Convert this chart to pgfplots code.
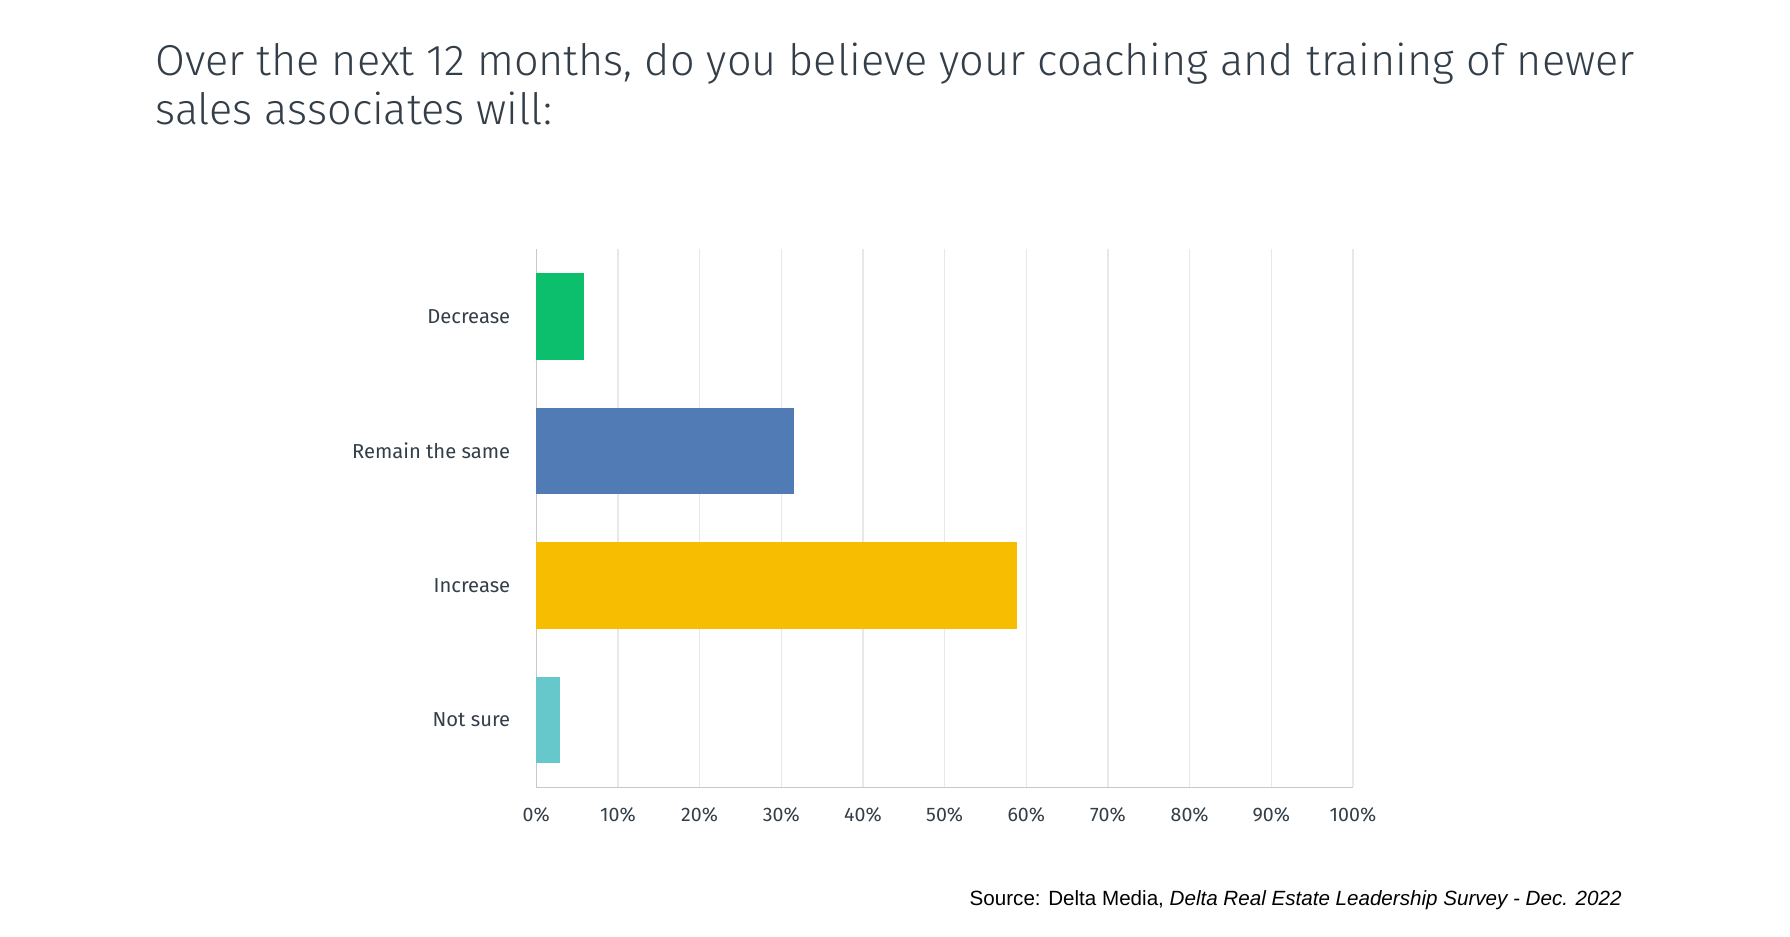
\documentclass[border=0pt]{standalone}
\usepackage{fontspec}
\setmainfont{Fira Sans Light}
\newfontfamily\regfont{Fira Sans}
\newfontfamily\srcfont{Liberation Sans}
\usepackage{pgfplots}
\pgfplotsset{compat=1.18}
\definecolor{txt}{HTML}{333E48}
\definecolor{cDec}{HTML}{0BBF6C}
\definecolor{cRem}{HTML}{517BB5}
\definecolor{cInc}{HTML}{F7BD00}
\definecolor{cNot}{HTML}{66C8CA}
\definecolor{gridc}{HTML}{E8E8E8}
\definecolor{axc}{HTML}{C8C8C8}
\begin{document}
\begin{tikzpicture}
\path[use as bounding box] (0,0) rectangle (895pt,-468.5pt);
\node[anchor=base west, align=left, text=txt, font=\fontsize{21.6}{24.5}\selectfont, inner sep=0pt] at (77.5pt,-62pt)
  {Over the next 12 months, do you believe your coaching and training of newer\\sales associates will:};
\begin{axis}[
  at={(268.15pt,-393.65pt)}, anchor=south west,
  scale only axis, width=408.35pt, height=269.15pt,
  xmin=0, xmax=100, ymin=-0.5, ymax=3.5, y dir=reverse,
  xbar, bar width=43.35pt, bar shift=0pt,
  xtick={0,10,...,100},
  xticklabel={\pgfmathprintnumber{\tick}\%},
  ytick={0,1,2,3},
  yticklabels={Decrease,Remain the same,Increase,Not sure},
  major tick length=0pt,
  xmajorgrids, major grid style={gridc, line width=0.6pt},
  axis line style={axc, line width=0.8pt},
  axis x line*=bottom, axis y line*=left,
  /pgf/number format/assume math mode=true,
  xticklabel style={text=txt, font=\regfont\fontsize{9.8}{11}\selectfont, yshift=-6.5pt},
  yticklabel style={text=txt, font=\regfont\fontsize{10.1}{11}\selectfont, xshift=-9.5pt},
  clip=false,
]
\addplot[fill=cDec, draw=none] coordinates {(5.8,0)};
\addplot[fill=cRem, draw=none] coordinates {(31.6,1)};
\addplot[fill=cInc, draw=none] coordinates {(58.9,2)};
\addplot[fill=cNot, draw=none] coordinates {(2.9,3)};
\draw[gridc, line width=0.6pt] (axis cs:100,-0.5) -- (axis cs:100,3.5);
\end{axis}
\node[anchor=base east, inner sep=0pt, font=\srcfont\fontsize{10.3}{12}\selectfont] at (811pt,-452.5pt)
  {Source: Delta Media, \textit{Delta Real Estate Leadership Survey - Dec. 2022}};
\end{tikzpicture}
\end{document}
